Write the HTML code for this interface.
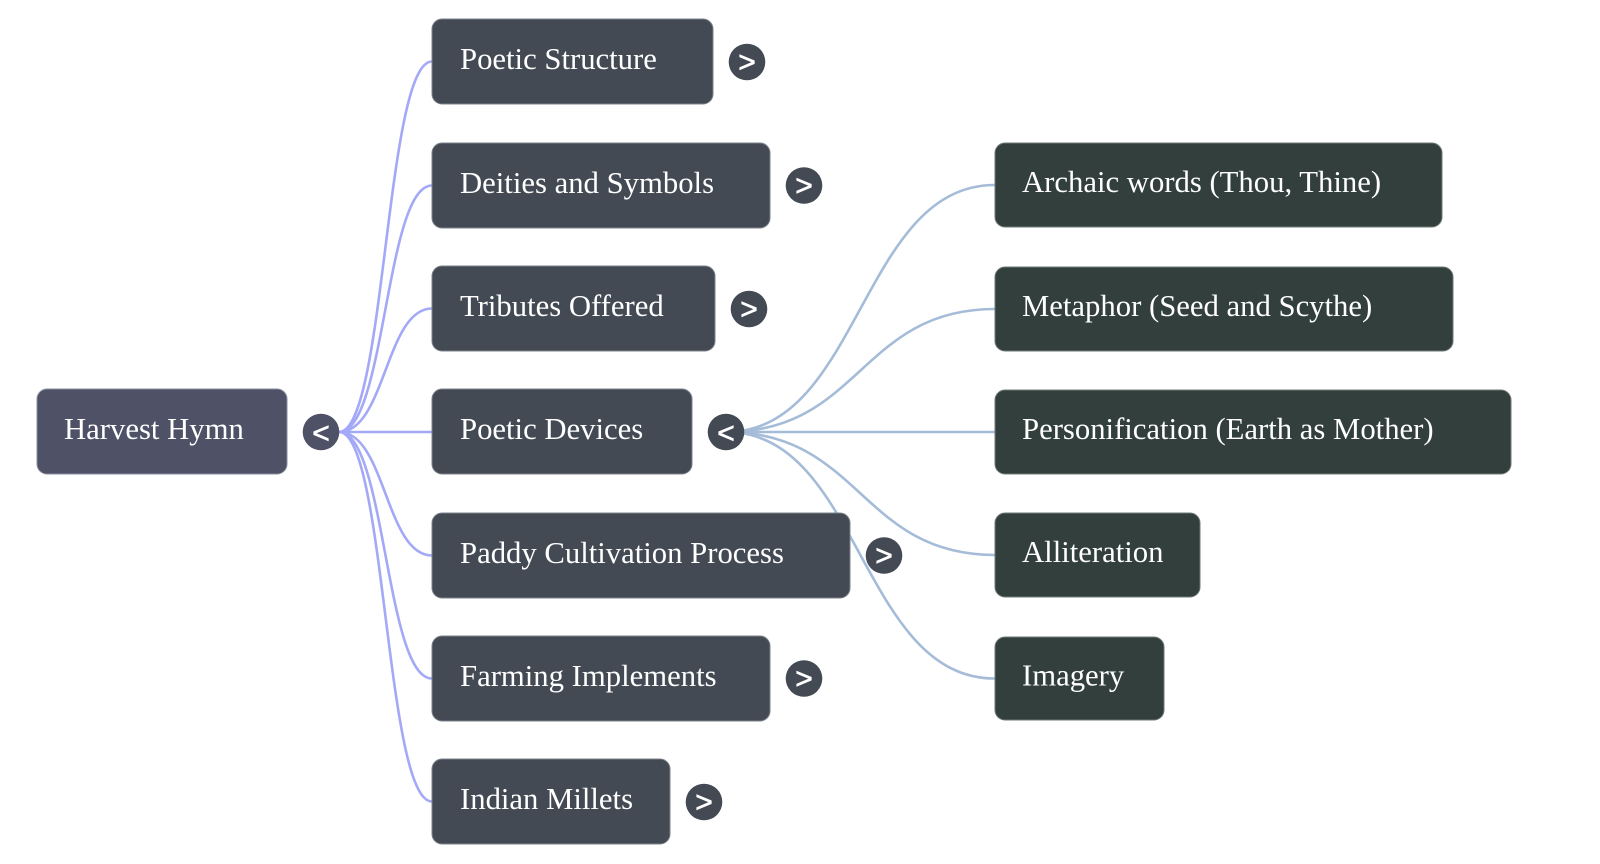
<!DOCTYPE html>
<html>
<head>
<meta charset="utf-8">
<style>
  html, body { margin: 0; padding: 0; background: #ffffff; }
  body { width: 1600px; height: 864px; overflow: hidden; }
  svg { display: block; }
  .lbl { font-family: "Liberation Serif", "Times New Roman", serif; font-size: 30.7px; fill: #ffffff; }
  .chev { font-family: "Liberation Sans", Arial, sans-serif; font-size: 30px; fill: #ffffff; stroke: #ffffff; stroke-width: 0.6; text-anchor: middle; }
</style>
</head>
<body>
<svg width="1600" height="864" viewBox="0 0 1600 864" xmlns="http://www.w3.org/2000/svg">
  <!-- level 1 connectors -->
  <g fill="none" stroke="#a3a9f6" stroke-width="2.6">
    <path d="M339,432 C385.5,432 385.5,61.5 432,61.5"/>
    <path d="M339,432 C385.5,432 385.5,185.5 432,185.5"/>
    <path d="M339,432 C385.5,432 385.5,308.5 432,308.5"/>
    <path d="M339,432 L432,432"/>
    <path d="M339,432 C385.5,432 385.5,555.5 432,555.5"/>
    <path d="M339,432 C385.5,432 385.5,678.5 432,678.5"/>
    <path d="M339,432 C385.5,432 385.5,801.5 432,801.5"/>
  </g>
  <!-- level 2 connectors -->
  <g fill="none" stroke="#a5bcd8" stroke-width="2.6">
    <path d="M726,432 C860.5,432 860.5,185 995,185"/>
    <path d="M726,432 C860.5,432 860.5,309 995,309"/>
    <path d="M726,432 L995,432"/>
    <path d="M726,432 C860.5,432 860.5,555 995,555"/>
    <path d="M726,432 C860.5,432 860.5,678.5 995,678.5"/>
  </g>

  <!-- root -->
  <rect x="37" y="389" width="250" height="85" rx="10" fill="#4f5167" stroke="#8a8da0" stroke-width="1"/>
  <text class="lbl" x="64" y="439">Harvest Hymn</text>
  <circle cx="321" cy="432" r="18.3" fill="#4f5167"/>
  <text class="chev" x="321" y="443">&lt;</text>

  <!-- level 1 nodes -->
  <g stroke="#7d838c" stroke-width="1">
    <rect x="432" y="19" width="281" height="85" rx="10" fill="#434a54"/>
    <rect x="432" y="143" width="338" height="85" rx="10" fill="#434a54"/>
    <rect x="432" y="266" width="283" height="85" rx="10" fill="#434a54"/>
    <rect x="432" y="389" width="260" height="85" rx="10" fill="#434a54"/>
    <rect x="432" y="513" width="418" height="85" rx="10" fill="#434a54"/>
    <rect x="432" y="636" width="338" height="85" rx="10" fill="#434a54"/>
    <rect x="432" y="759" width="238" height="85" rx="10" fill="#434a54"/>
  </g>
  <text class="lbl" x="460" y="69">Poetic Structure</text>
  <text class="lbl" x="460" y="193">Deities and Symbols</text>
  <text class="lbl" x="460" y="316">Tributes Offered</text>
  <text class="lbl" x="460" y="439">Poetic Devices</text>
  <text class="lbl" x="460" y="563">Paddy Cultivation Process</text>
  <text class="lbl" x="460" y="686">Farming Implements</text>
  <text class="lbl" x="460" y="809">Indian Millets</text>

  <g fill="#434a54">
    <circle cx="747" cy="62" r="18.3"/>
    <circle cx="804" cy="185.5" r="18.3"/>
    <circle cx="749" cy="309" r="18.3"/>
    <circle cx="726" cy="432" r="18.3"/>
    <circle cx="884" cy="555.5" r="18.3"/>
    <circle cx="804" cy="678.5" r="18.3"/>
    <circle cx="704" cy="802" r="18.3"/>
  </g>
  <text class="chev" x="747" y="72">&gt;</text>
  <text class="chev" x="804" y="195.5">&gt;</text>
  <text class="chev" x="749" y="319">&gt;</text>
  <text class="chev" x="726" y="443">&lt;</text>
  <text class="chev" x="884" y="565.5">&gt;</text>
  <text class="chev" x="804" y="688.5">&gt;</text>
  <text class="chev" x="704" y="812">&gt;</text>

  <!-- level 2 nodes -->
  <g stroke="#6f7a78" stroke-width="1">
    <rect x="995" y="143" width="447" height="84" rx="10" fill="#323f3c"/>
    <rect x="995" y="267" width="458" height="84" rx="10" fill="#323f3c"/>
    <rect x="995" y="390" width="516" height="84" rx="10" fill="#323f3c"/>
    <rect x="995" y="513" width="205" height="84" rx="10" fill="#323f3c"/>
    <rect x="995" y="637" width="169" height="83" rx="10" fill="#323f3c"/>
  </g>
  <text class="lbl" x="1022" y="192">Archaic words (Thou, Thine)</text>
  <text class="lbl" x="1022" y="316">Metaphor (Seed and Scythe)</text>
  <text class="lbl" x="1022" y="439">Personification (Earth as Mother)</text>
  <text class="lbl" x="1022" y="562">Alliteration</text>
  <text class="lbl" x="1022" y="685.5">Imagery</text>
</svg>
</body>
</html>
